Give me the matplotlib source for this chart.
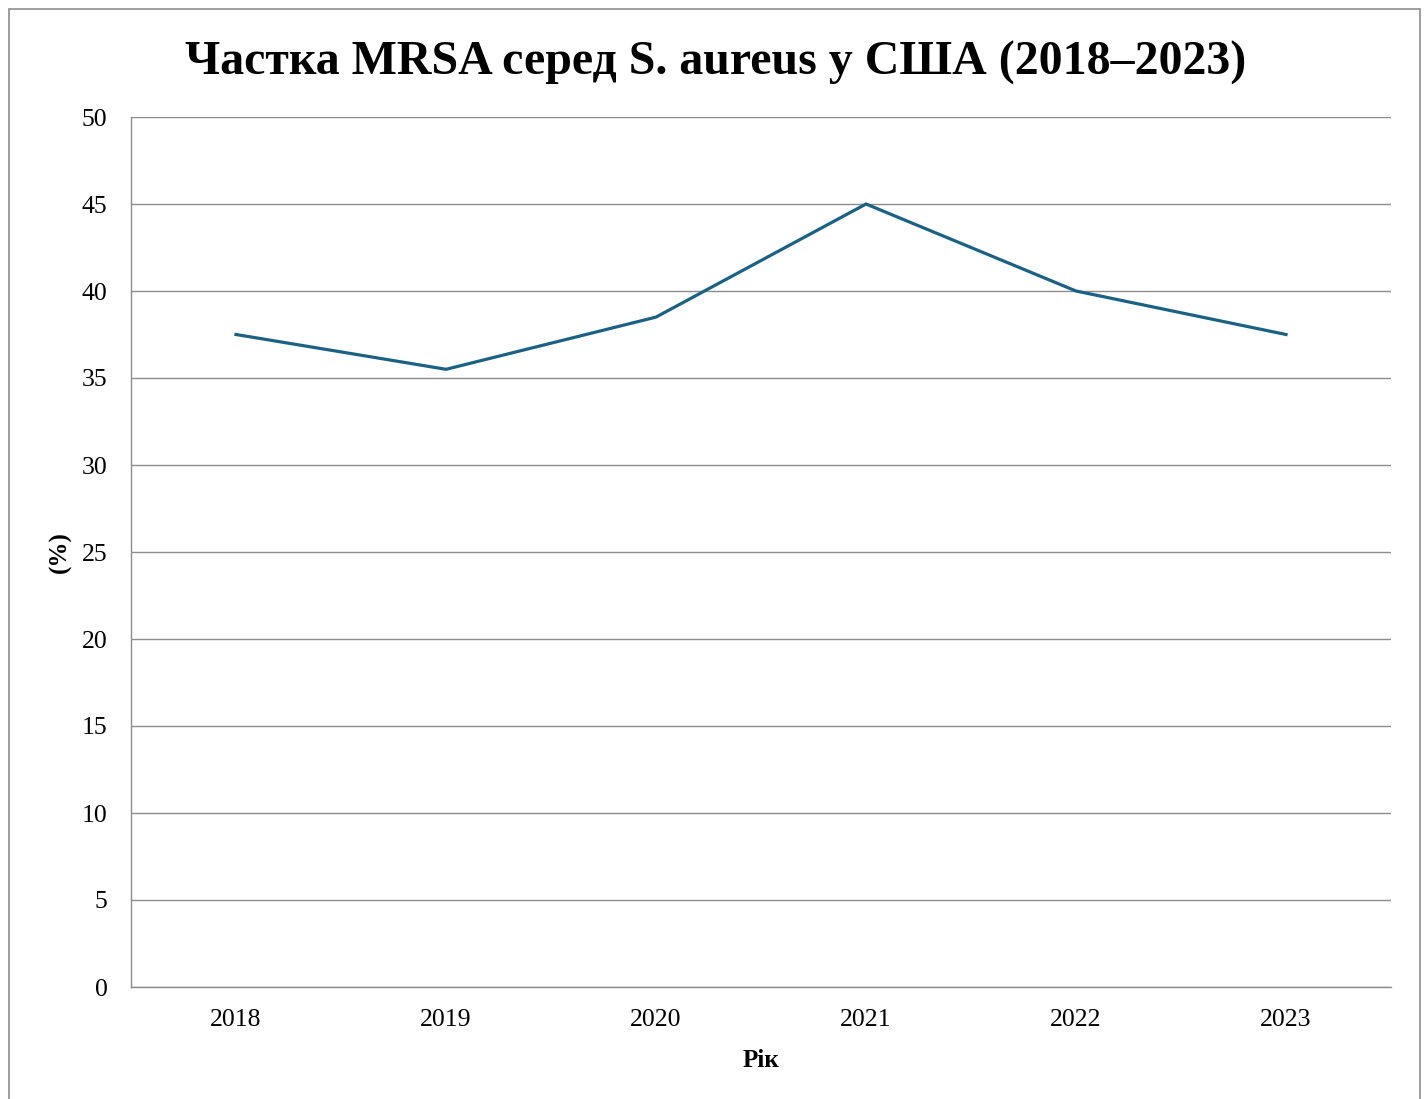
import matplotlib
matplotlib.use("Agg")
import matplotlib.pyplot as plt
from matplotlib.patches import Rectangle

years = ["2018", "2019", "2020", "2021", "2022", "2023"]
mrsa_share = [37.5, 35.5, 38.5, 45.0, 40.0, 37.5]
y_ticks = [0, 5, 10, 15, 20, 25, 30, 35, 40, 45, 50]

plt.rcParams['font.family'] = ['Liberation Serif', 'DejaVu Serif']

W, H = 1426, 1099
fig = plt.figure(figsize=(W / 100, H / 100), dpi=100)
ax = fig.add_axes([131 / W, 1 - 987 / H, (1391 - 131) / W, (987 - 117) / H])

x = list(range(len(years)))
ax.plot(x, mrsa_share, color="#1b6184", linewidth=2.3, solid_joinstyle="miter")

ax.set_xlim(-0.5, len(years) - 0.5)
ax.set_ylim(0, 50)
ax.set_xticks(x)
ax.set_xticklabels(years)
ax.set_yticks(y_ticks)
ax.yaxis.grid(True, color="#8c8c8c", linewidth=1.0)
ax.set_axisbelow(True)
ax.tick_params(axis="both", length=0, labelsize=18.5)
ax.tick_params(axis="y", pad=17)
ax.tick_params(axis="x", pad=16)
for s in ["top", "right"]:
    ax.spines[s].set_visible(False)
for s in ["left", "bottom"]:
    ax.spines[s].set_color("#8c8c8c")
    ax.spines[s].set_linewidth(1.0)

ax.set_xlabel("Рік", fontsize=18, fontweight="bold", labelpad=13)
ax.set_ylabel("(%)", fontsize=18, fontweight="bold", labelpad=7)

fig.text(716 / W, 1 - 63 / H, "Частка MRSA серед S. aureus у США (2018–2023)",
         ha="center", va="center", fontsize=34.5, fontweight="bold")

fig.patches.append(Rectangle((9 / W, -0.05), (1420 - 9) / W, 1 - 9 / H + 0.05,
                             transform=fig.transFigure, fill=False,
                             edgecolor="#8c8c8c", linewidth=1.2))

fig.savefig("out.png", dpi=100, facecolor="white")
